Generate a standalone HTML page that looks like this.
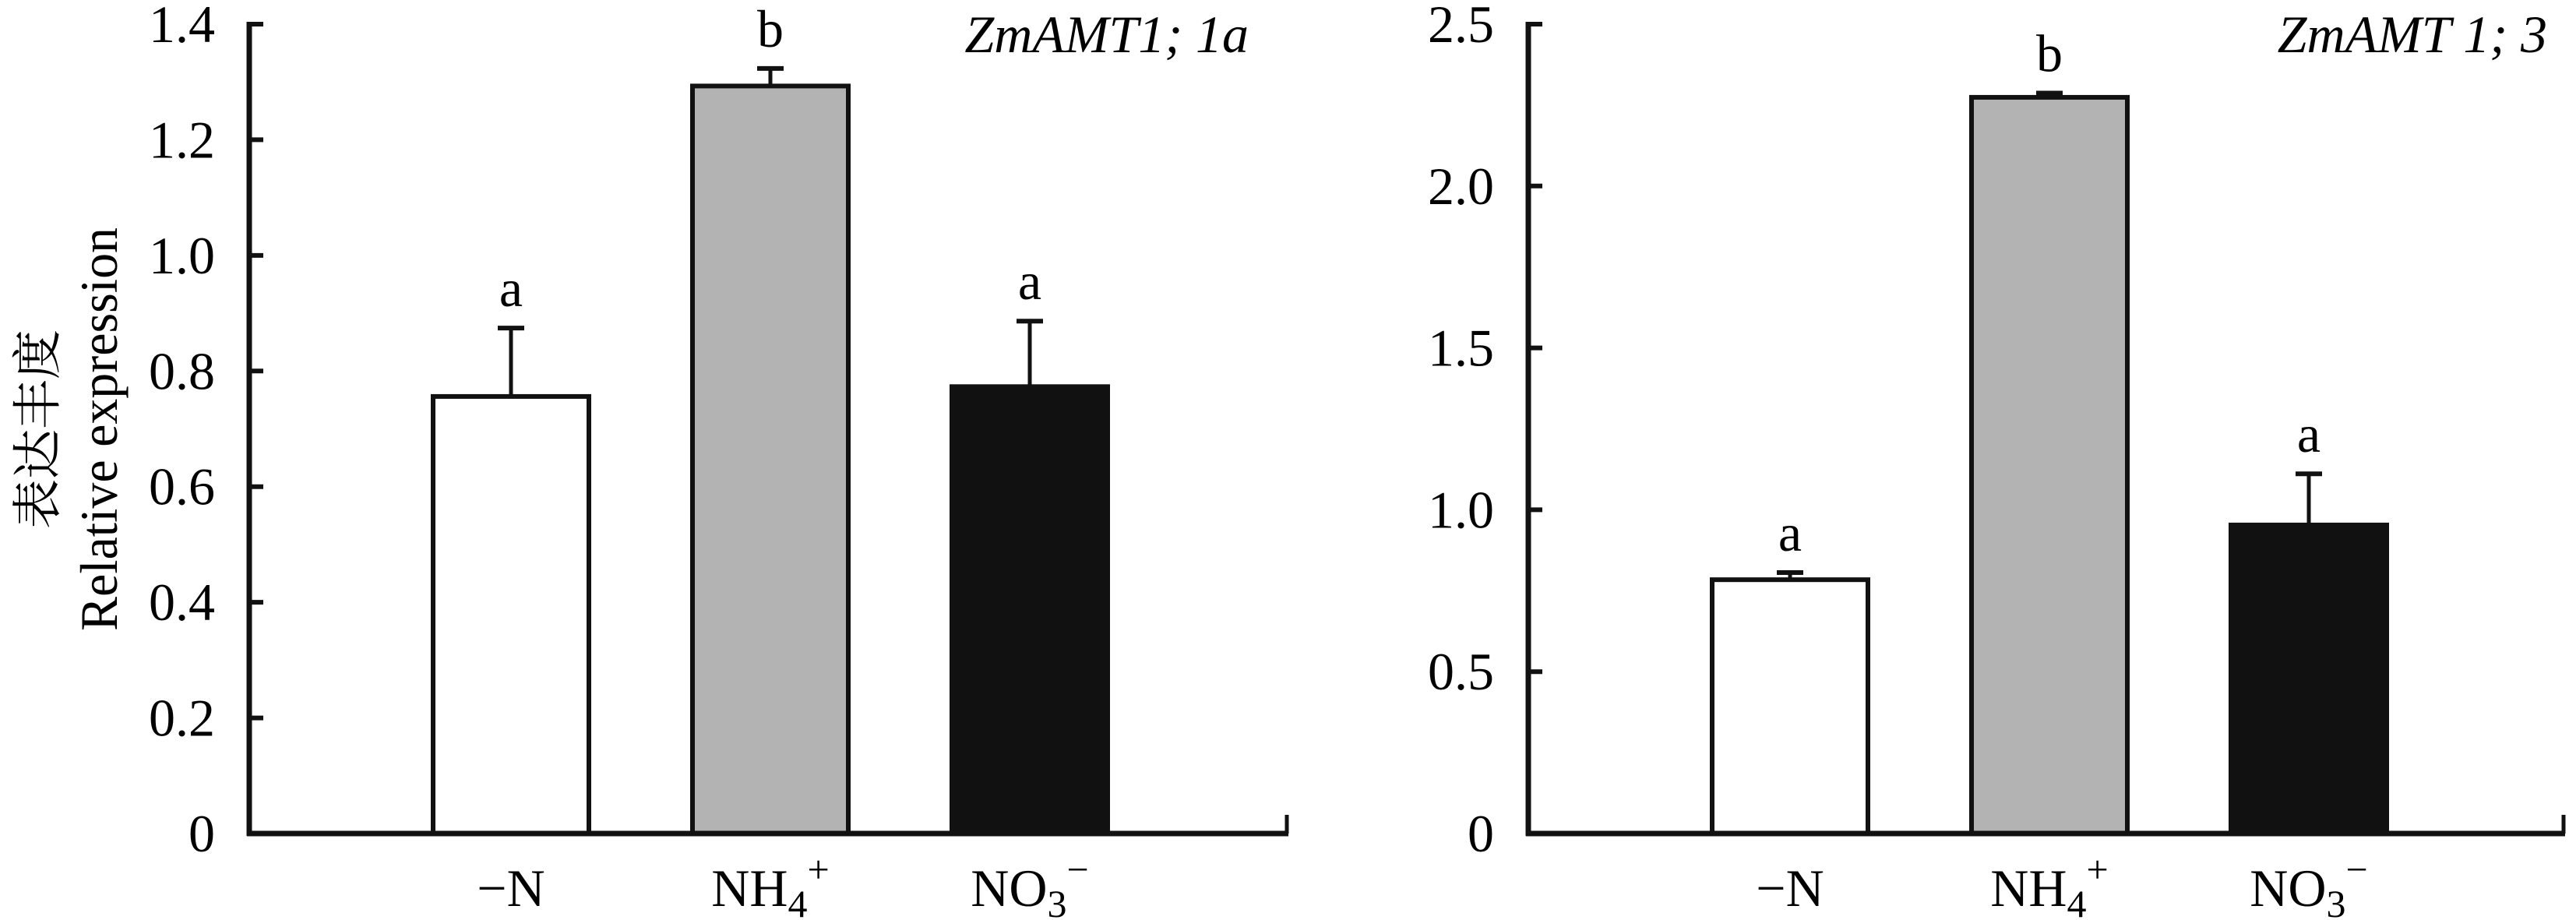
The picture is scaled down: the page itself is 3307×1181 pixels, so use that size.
<!DOCTYPE html>
<html><head><meta charset="utf-8">
<style>
html,body{margin:0;padding:0;background:#fff;}
svg{display:block;}
text{font-family:"Liberation Serif","Noto Serif CJK SC",serif;fill:#000;}
</style></head>
<body>
<svg id="chart" width="3307" height="1181" viewBox="0 0 3307 1181" xmlns="http://www.w3.org/2000/svg">
<g id="p1"></g>
<g id="p2"></g>
<g>
<text x="49" y="551" font-size="64" text-anchor="middle" dominant-baseline="central" transform="rotate(-90 49 551)" font-family="'Noto Serif CJK SC',serif">表达丰度</text>
<text x="150" y="551" font-size="68" text-anchor="middle" textLength="518" lengthAdjust="spacingAndGlyphs" transform="rotate(-90 150 551)">Relative expression</text>
</g>
</svg>
<script>
const categories = ["−N", "NH4+", "NO3−"];
const p1Values = [0.756, 1.293, 0.773];
const p1Errors = [0.121, 0.033, 0.116];
const p1Letters = ["a", "b", "a"];
const p1Ticks = [0, 0.2, 0.4, 0.6, 0.8, 1.0, 1.2, 1.4];
const p1TickLabels = ["0", "0.2", "0.4", "0.6", "0.8", "1.0", "1.2", "1.4"];
const p2Values = [0.784, 2.274, 0.953];
const p2Errors = [0.027, 0.018, 0.163];
const p2Letters = ["a", "b", "a"];
const p2Ticks = [0, 0.5, 1.0, 1.5, 2.0, 2.5];
const p2TickLabels = ["0", "0.5", "1.0", "1.5", "2.0", "2.5"];
const fills = ["#ffffff", "#b3b3b3", "#111111"];

const NS = "http://www.w3.org/2000/svg";
function mk(parent, tag, attrs) {
  const e = document.createElementNS(NS, tag);
  for (const k in attrs) e.setAttribute(k, attrs[k]);
  parent.appendChild(e);
  return e;
}

function drawPanel(g, cfg) {
  const x0 = cfg.x0, x1 = cfg.x1, y0 = 1070, yTop = 31;
  const maxV = cfg.ticks[cfg.ticks.length - 1];
  const yS = v => y0 - (v / maxV) * (y0 - yTop);
  const xS = i => x0 + 336 + i * 333;
  const bw = 200;

  // bars
  cfg.values.forEach((v, i) => {
    const r = mk(g, "rect", {x: xS(i) - bw / 2, y: yS(v), width: bw, height: y0 - yS(v), fill: fills[i], stroke: "#111", "stroke-width": 6});
    
    
    const eTop = yS(v + cfg.errors[i]);
    const l = mk(g, "line", {x1: xS(i), x2: xS(i), y1: yS(v), y2: eTop, stroke: "#111", "stroke-width": 5});
    
    
    const c = mk(g, "line", {x1: xS(i) - 17, x2: xS(i) + 17, y1: eTop + 2, y2: eTop + 2, stroke: "#111", "stroke-width": 6});
    
    
    const t = mk(g, "text", {x: xS(i), y: eTop - 26, "font-size": 68, "text-anchor": "middle"});
    t.textContent = cfg.letters[i];
    
    
  });

  // axes
  const ya = mk(g, "line", {x1: x0, x2: x0, y1: yTop - 3, y2: y0 + 3, stroke: "#111", "stroke-width": 7});
  
  
  const xa = mk(g, "line", {x1: x0 - 3, x2: x1, y1: y0, y2: y0, stroke: "#111", "stroke-width": 7});
  
  
  const et = mk(g, "line", {x1: x1 - 2, x2: x1 - 2, y1: y0, y2: y0 - 24, stroke: "#111", "stroke-width": 5});
  
  

  cfg.ticks.forEach((v, i) => {
    const tk = mk(g, "line", {x1: x0, x2: x0 + 18, y1: yS(v), y2: yS(v), stroke: "#111", "stroke-width": 6});
    
    
    const lb = mk(g, "text", {x: x0 - 44, y: yS(v) + 23, "font-size": 68, "text-anchor": "end"});
    lb.textContent = cfg.tickLabels[i];
    
    
  });

  // x labels
  const xl = [
    '<tspan>−N</tspan>',
    'NH<tspan font-size="50" dy="14">4</tspan><tspan font-size="50" dy="-44">+</tspan>',
    'NO<tspan font-size="50" dy="14">3</tspan><tspan font-size="50" dy="-44">−</tspan>'
  ];
  categories.forEach((c, i) => {
    const t = mk(g, "text", {x: xS(i), y: 1163, "font-size": 68, "text-anchor": "middle"});
    t.innerHTML = xl[i];
    
    
  });

  const tt = mk(g, "text", {x: cfg.titleX, y: 67, "font-size": 68, "font-style": "italic", "text-anchor": "end"});
  tt.textContent = cfg.title;
  
  
}

drawPanel(document.getElementById("p1"), {id: "left", x0: 320, x1: 1654, values: p1Values, errors: p1Errors, letters: p1Letters, ticks: p1Ticks, tickLabels: p1TickLabels, title: "ZmAMT1; 1a", titleX: 1603});
drawPanel(document.getElementById("p2"), {id: "right", x0: 1962, x1: 3293, values: p2Values, errors: p2Errors, letters: p2Letters, ticks: p2Ticks, tickLabels: p2TickLabels, title: "ZmAMT 1; 3", titleX: 3270});
</script>
</body></html>
